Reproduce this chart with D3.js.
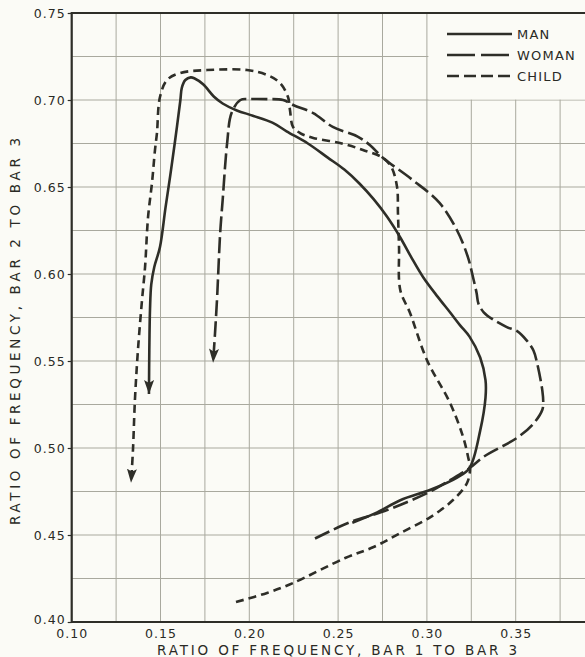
<!DOCTYPE html>
<html>
<head>
  <meta charset="utf-8">
  <title>Ratio of frequency</title>
  <script src="https://d3js.org/d3.v7.min.js"></script>
  <style>
    body {
      margin: 0;
      padding: 0;
      background-color: #fbfbf6;
    }
    svg { display: block; }
    .grid line {
      stroke: #a9a99e;
      stroke-width: 1;
    }
    .curve {
      fill: none;
      stroke: #2e2e28;
      stroke-width: 2.6;
      stroke-linejoin: round;
    }
    .lbl {
      font-family: "DejaVu Sans", sans-serif;
      fill: #2a2a25;
    }
  </style>
</head>
<body>
<div id="chart"></div>
<script>
  // series: ratio bar1/bar3 (x) vs ratio bar2/bar3 (y)
  var manX = [0.258, 0.272, 0.285, 0.302, 0.317, 0.324, 0.330, 0.333, 0.333, 0.330, 0.324, 0.3187,
              0.313, 0.306, 0.298, 0.291, 0.285, 0.2775, 0.270, 0.262, 0.2535, 0.244, 0.233, 0.221,
              0.213, 0.202, 0.193, 0.185, 0.180, 0.174, 0.169, 0.167, 0.164, 0.162, 0.1612, 0.158,
              0.1554, 0.1528, 0.1497, 0.1465, 0.1448, 0.1441, 0.1437, 0.1435];
  var manY = [0.457, 0.463, 0.470, 0.476, 0.483, 0.4885, 0.510, 0.529, 0.539, 0.552, 0.564, 0.5705,
              0.578, 0.587, 0.598, 0.610, 0.621, 0.633, 0.643, 0.652, 0.660, 0.667, 0.675, 0.682,
              0.687, 0.691, 0.694, 0.698, 0.702, 0.709, 0.7125, 0.713, 0.7115, 0.707, 0.700, 0.675,
              0.656, 0.638, 0.6155, 0.604, 0.594, 0.580, 0.556, 0.531];

  var womanX = [0.237, 0.257, 0.274, 0.289, 0.302, 0.313, 0.324, 0.332, 0.351, 0.360, 0.365, 0.3655,
                0.365, 0.362, 0.360, 0.356, 0.351, 0.345, 0.337, 0.332, 0.329, 0.328, 0.326, 0.323,
                0.317, 0.307, 0.292, 0.275, 0.268, 0.261, 0.247, 0.236, 0.225, 0.219, 0.210, 0.200,
                0.195, 0.190, 0.1875, 0.185, 0.1836, 0.1824, 0.1818, 0.1807, 0.1796];
  var womanY = [0.448, 0.4575, 0.463, 0.469, 0.475, 0.4815, 0.4885, 0.495, 0.506, 0.514, 0.522, 0.526,
                0.533, 0.549, 0.556, 0.562, 0.567, 0.5695, 0.574, 0.578, 0.583, 0.589, 0.598, 0.610,
                0.625, 0.641, 0.654, 0.667, 0.674, 0.679, 0.6845, 0.6925, 0.697, 0.700, 0.7005, 0.7005,
                0.700, 0.6925, 0.675, 0.6425, 0.6236, 0.598, 0.585, 0.566, 0.549];

  var childX = [0.1925, 0.210, 0.2246, 0.254, 0.270, 0.285, 0.302, 0.3147, 0.3226, 0.3243, 0.3232,
                0.3204, 0.313, 0.300, 0.2905, 0.285, 0.2843, 0.2837, 0.2832, 0.280, 0.2753, 0.264,
                0.251, 0.236, 0.2286, 0.2246, 0.2229, 0.2218, 0.2173, 0.210, 0.1987, 0.1762, 0.161,
                0.1537, 0.1497, 0.148, 0.1469, 0.1452, 0.143, 0.1413, 0.1396, 0.1373, 0.1356,
                0.1345, 0.1334];
  var childY = [0.4115, 0.4167, 0.4224, 0.4368, 0.4431, 0.4511, 0.4603, 0.4701, 0.4799, 0.4885, 0.4948,
                0.5063, 0.5259, 0.5506, 0.5776, 0.5908, 0.6155, 0.6351, 0.650, 0.6615, 0.6667, 0.6713,
                0.6753, 0.6782, 0.681, 0.6845, 0.6943, 0.7017, 0.7098, 0.7144, 0.7172, 0.7172, 0.7155,
                0.7115, 0.7017, 0.681, 0.6713, 0.6523, 0.6328, 0.604, 0.5851, 0.5563, 0.5276,
                0.4989, 0.480];

  var seriesNames = ["MAN", "WOMAN", "CHILD"];
  var xTicks = [0.10, 0.15, 0.20, 0.25, 0.30, 0.35, 0.40];
  var yTicks = [0.40, 0.45, 0.50, 0.55, 0.60, 0.65, 0.70, 0.75];

  var width = 585,
      height = 657;

  var x = d3.scaleLinear().domain([0.10, 0.40]).range([71.7, 604.5]);
  var y = d3.scaleLinear().domain([0.40, 0.75]).range([622, 13]);

  var dashes = { MAN: null, WOMAN: "16,5", CHILD: "8,5" };

  var svg = d3.select("#chart")
    .append("svg")
      .attr("width", width)
      .attr("height", height);

  svg.append("defs").append("marker")
      .attr("id", "arrow")
      .attr("markerUnits", "userSpaceOnUse")
      .attr("markerWidth", 16)
      .attr("markerHeight", 12)
      .attr("refX", 14)
      .attr("refY", 5)
      .attr("orient", "auto")
    .append("path")
      .attr("d", "M0,0 L14,5 L0,10 L3,5 Z")
      .attr("fill", "#2e2e28");

  // grid, every 0.025
  var gx = d3.range(0, 13).map(function(i) { return 0.10 + i * 0.025; });
  var gy = d3.range(0, 15).map(function(i) { return 0.40 + i * 0.025; });

  var grid = svg.append("g").attr("class", "grid");
  grid.selectAll(".vx")
      .data(gx)
    .enter().append("line")
      .attr("x1", function(d) { return x(d); })
      .attr("x2", function(d) { return x(d); })
      .attr("y1", y(0.75))
      .attr("y2", y(0.40));
  grid.selectAll(".hy")
      .data(gy)
    .enter().append("line")
      .attr("x1", x(0.10))
      .attr("x2", x(0.40))
      .attr("y1", function(d) { return y(d); })
      .attr("y2", function(d) { return y(d); });

  // blank legend panel over the grid
  svg.append("rect")
      .attr("x", x(0.30) + 1.5)
      .attr("y", y(0.75) + 1)
      .attr("width", x(0.40) - x(0.30))
      .attr("height", y(0.70) - y(0.75) - 1.5)
      .attr("fill", "#fbfbf6");

  // frame: left, bottom, top
  svg.append("path")
      .attr("d", "M" + x(0.40) + "," + y(0.75) + "H" + x(0.10) + "V" + y(0.40) + "H" + x(0.40))
      .attr("fill", "none")
      .attr("stroke", "#2e2e28")
      .attr("stroke-width", 2.2);

  // y axis labels and ticks
  svg.append("g")
      .attr("transform", "translate(" + x(0.10) + ",0)")
      .call(d3.axisLeft(y).tickValues(yTicks).tickSize(4).tickPadding(2).tickFormat(d3.format(".2f")))
      .call(function(g) {
        g.select(".domain").remove();
        g.selectAll("line").attr("stroke", "#2e2e28").attr("stroke-width", 1.2);
        g.selectAll("text")
          .attr("class", "lbl")
          .attr("dy", function(d) { return d == 0.40 ? "0.1em" : "0.36em"; })
          .style("font-size", "12.5px")
          .style("letter-spacing", "1px");
      });

  // x axis labels
  svg.append("g")
      .attr("transform", "translate(0," + y(0.40) + ")")
      .call(d3.axisBottom(x).tickValues(xTicks).tickSize(0).tickPadding(7).tickFormat(d3.format(".2f")))
      .call(function(g) {
        g.select(".domain").remove();
        g.selectAll("text")
          .attr("class", "lbl")
          .style("font-size", "12.5px")
          .style("letter-spacing", "1px");
      });

  svg.append("text")
      .attr("class", "lbl")
      .attr("x", 157)
      .attr("y", 655)
      .attr("textLength", 360)
      .attr("lengthAdjust", "spacing")
      .style("font-size", "13.5px")
      .text("RATIO OF FREQUENCY, BAR 1 TO BAR 3");

  svg.append("text")
      .attr("class", "lbl")
      .attr("transform", "translate(20,525) rotate(-90)")
      .attr("textLength", 387)
      .attr("lengthAdjust", "spacing")
      .style("font-size", "13.5px")
      .text("RATIO OF FREQUENCY, BAR 2 TO BAR 3");

  // curves
  var line = d3.line()
      .x(function(d) { return x(d[0]); })
      .y(function(d) { return y(d[1]); })
      .curve(d3.curveCatmullRom.alpha(0.5));

  var series = [
    { name: "MAN", pts: d3.zip(manX, manY) },
    { name: "WOMAN", pts: d3.zip(womanX, womanY) },
    { name: "CHILD", pts: d3.zip(childX, childY) }
  ];

  svg.selectAll(".curve")
      .data(series)
    .enter().append("path")
      .attr("class", "curve")
      .attr("d", function(d) { return line(d.pts); })
      .attr("stroke-dasharray", function(d) { return dashes[d.name]; })
      .attr("marker-end", "url(#arrow)");

  // legend
  var legY = [34, 55, 76];
  var leg = svg.selectAll(".leg")
      .data(seriesNames)
    .enter().append("g")
      .attr("transform", function(d, i) { return "translate(447," + legY[i] + ")"; });
  leg.append("line")
      .attr("x1", 0).attr("x2", 65)
      .attr("stroke", "#2e2e28")
      .attr("stroke-width", 2.6)
      .attr("stroke-dasharray", function(d) { return d == "WOMAN" ? "28,6" : d == "CHILD" ? "12,5" : null; });
  leg.append("text")
      .attr("class", "lbl")
      .attr("x", 70)
      .attr("dy", "0.36em")
      .style("font-size", "13px")
      .style("letter-spacing", "1.2px")
      .text(function(d) { return d; });
</script>
</body>
</html>
